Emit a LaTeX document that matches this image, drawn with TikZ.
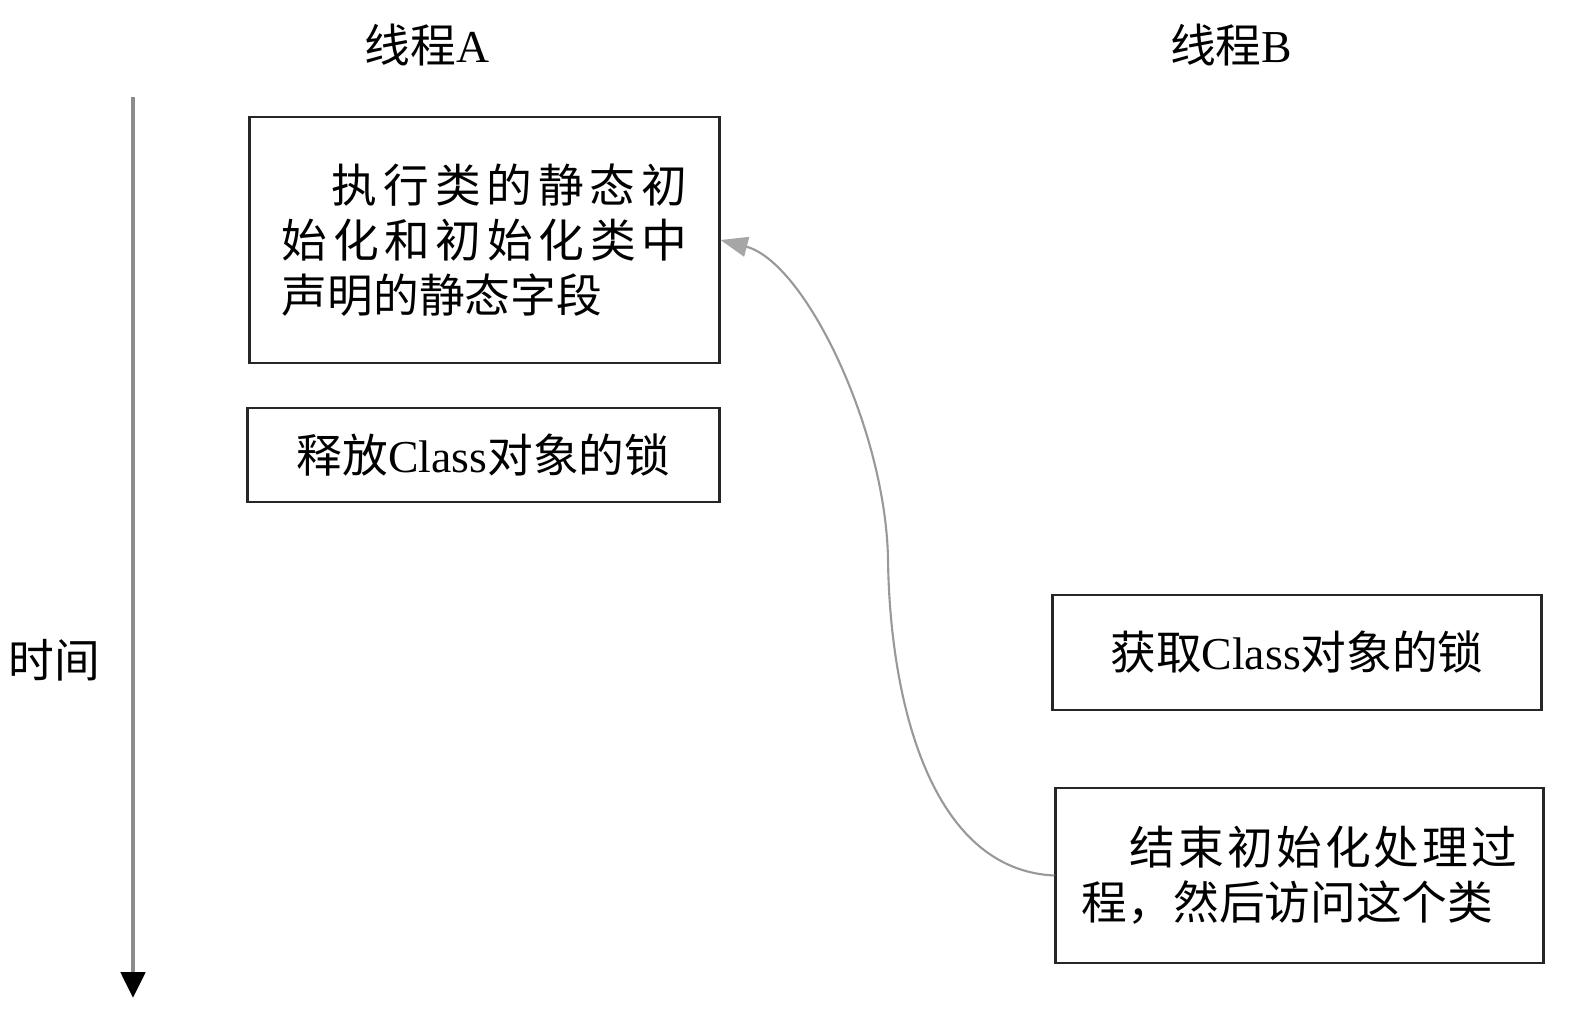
\documentclass[tikz,border=0pt]{standalone}
\usepackage{fontspec}
\setmainfont{Liberation Serif}
\newfontfamily\cjk{Noto Sans CJK SC}
\usetikzlibrary{arrows.meta}
\begin{document}
\begin{tikzpicture}[x=0.01cm,y=-0.01cm,
  txt/.style={font=\fontsize{13pt}{15.6pt}\selectfont, inner sep=0pt},
  box/.style={draw=black!85, line width=0.8pt, txt, align=left},
  axis/.style={draw=black!45, line width=1.4pt},
  link/.style={draw=black!40, line width=0.6pt}]
\useasboundingbox (0,0) rectangle (1574,1030);
\fill[white] (0,0) rectangle (1574,1030);
% headers
\node[txt] (hA) at (427,45) {{\cjk 线程}A};
\node[txt] (hB) at (1231,45) {{\cjk 线程}B};
\node[txt] (time) at (54,660) {\cjk 时间};
% time axis
\coordinate (ttop) at (133,97);
\coordinate (tbot) at (133,998);
\draw[axis, -{Triangle[width=0.24cm,length=0.26cm,color=black]}] (ttop) -- (tbot);
% boxes
\node[box, minimum width=4.69cm, minimum height=2.46cm] (box1) at (484.5,240)
  {\cjk\makebox[4.05cm][r]{\makebox[3.55cm][s]{执\hfill 行\hfill 类\hfill 的\hfill 静\hfill 态\hfill 初}}\\
   \cjk\makebox[4.05cm][s]{始\hfill 化\hfill 和\hfill 初\hfill 始\hfill 化\hfill 类\hfill 中}\\
   \cjk 声明的静态字段};
\node[box, minimum width=4.71cm, minimum height=0.94cm] (box2) at (483.5,455)
  {{\cjk 释放}Class{\cjk 对象的锁}};
\node[box, minimum width=4.88cm, minimum height=1.15cm] (box3) at (1297,652.5)
  {{\cjk 获取}Class{\cjk 对象的锁}};
\node[box, minimum width=4.87cm, minimum height=1.75cm] (box4) at (1299.5,875.5)
  {\cjk\makebox[4.35cm][r]{\makebox[3.87cm][s]{结\hfill 束\hfill 初\hfill 始\hfill 化\hfill 处\hfill 理\hfill 过}}\\
   \cjk 程，然后访问这个类};
% connector
\coordinate (mid) at (888,560);
\draw[link, -{Triangle[width=0.2cm,length=0.27cm,color=black!35]}]
  (box4.west) .. controls (930,870) and (890,700) .. (mid)
  .. controls (886,430) and (805,262) .. (box1.east);
\end{tikzpicture}
\end{document}
